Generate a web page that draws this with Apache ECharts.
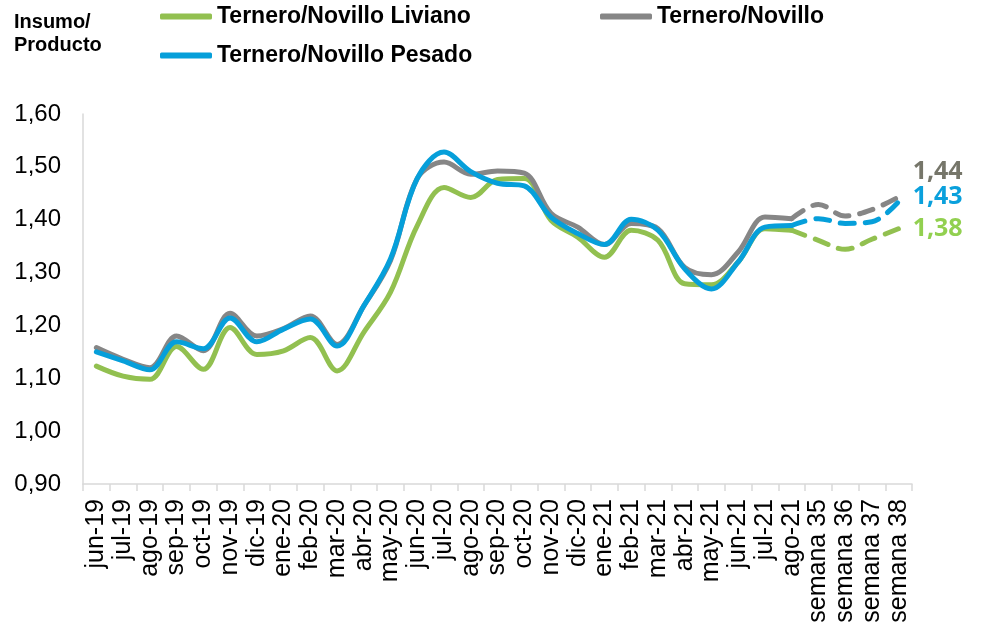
<!DOCTYPE html>
<html>
<head>
<meta charset="utf-8">
<script src="https://cdn.jsdelivr.net/npm/echarts@6/dist/echarts.min.js"></script>
<style>
  html, body { margin: 0; padding: 0; background: #fff; }
  #chart { width: 982px; height: 631px; }
</style>
</head>
<body>
<div id="chart"></div>
<script>
// categorias: meses + semanas proyectadas
const categories = ['jun-19', 'jul-19', 'ago-19', 'sep-19', 'oct-19', 'nov-19', 'dic-19',
  'ene-20', 'feb-20', 'mar-20', 'abr-20', 'may-20', 'jun-20', 'jul-20', 'ago-20', 'sep-20',
  'oct-20', 'nov-20', 'dic-20', 'ene-21', 'feb-21', 'mar-21', 'abr-21', 'may-21', 'jun-21',
  'jul-21', 'ago-21', 'semana 35', 'semana 36', 'semana 37', 'semana 38']

// valores mensuales (jun-19 .. ago-21)
const liviano = [1.123, 1.104, 1.098, 1.160, 1.117, 1.196, 1.145, 1.152, 1.177, 1.114, 1.187,
  1.263, 1.389, 1.461, 1.442, 1.476, 1.478, 1.399, 1.367, 1.329, 1.380, 1.361, 1.279, 1.277,
  1.320, 1.383, 1.380]
const novillo = [1.158, 1.136, 1.120, 1.180, 1.152, 1.223, 1.180, 1.194, 1.218, 1.164, 1.237,
  1.323, 1.478, 1.509, 1.486, 1.492, 1.488, 1.412, 1.386, 1.353, 1.393, 1.383, 1.310, 1.296,
  1.339, 1.405, 1.402]
const pesado = [1.150, 1.133, 1.116, 1.169, 1.156, 1.214, 1.169, 1.193, 1.212, 1.161, 1.237,
  1.326, 1.478, 1.528, 1.491, 1.469, 1.464, 1.405, 1.374, 1.353, 1.401, 1.380, 1.307, 1.269,
  1.320, 1.386, 1.389]

// semanas (ago-21, semana 35 .. semana 38), tramo punteado
const livianoSem = [1.380, 1.361, 1.344, 1.363, 1.383]
const novilloSem = [1.402, 1.429, 1.407, 1.419, 1.443]
const pesadoSem = [1.389, 1.402, 1.393, 1.396, 1.434]

const yTicks = { min: 0.9, max: 1.6, interval: 0.1 }

const GREEN = '#92C050'
const GRAY = '#868686'
const BLUE = '#069FDA'

function solid(arr) {
  return categories.map((c, i) => (i < arr.length ? arr[i] : null))
}
function dashed(arr) {
  const start = categories.length - arr.length
  return categories.map((c, i) => (i >= start ? arr[i - start] : null))
}
const fmt = v => v.toFixed(2).replace('.', ',')

function lineSeries(name, data, color) {
  return {
    name: name,
    type: 'line',
    data: data,
    smooth: 0.35,
    symbol: 'none',
    connectNulls: false,
    lineStyle: { width: 5, color: color, cap: 'round', join: 'round' },
    itemStyle: { color: color }
  }
}
function dashSeries(name, data, color, labelColor, offY) {
  const s = lineSeries(name, data, color)
  s.lineStyle.type = [14, 11]
  s.endLabel = {
    show: true,
    formatter: p => fmt(p.value),
    color: labelColor,
    fontFamily: 'Open Sans',
    fontWeight: 'bold',
    fontSize: 25,
    distance: 14,
    offset: [0, offY]
  }
  return s
}

const option = {
  animation: false,
  backgroundColor: '#fff',
  textStyle: { fontFamily: 'Liberation Sans, Arial, sans-serif' },
  title: {
    text: 'Insumo/\nProducto',
    left: 9,
    top: 6,
    textStyle: { fontSize: 20, fontWeight: 'bold', color: '#000', lineHeight: 23 }
  },
  legend: [
    { data: ['Ternero/Novillo Liviano'], left: 160, top: 5 },
    { data: ['Ternero/Novillo'], left: 600, top: 5 },
    { data: ['Ternero/Novillo Pesado'], left: 160, top: 44 }
  ].map(l => Object.assign(l, {
    icon: 'roundRect',
    itemWidth: 52,
    itemHeight: 6,
    padding: 0,
    selectedMode: false,
    textStyle: { fontSize: 23, fontWeight: 'bold', color: '#000' }
  })),
  grid: {
    left: 83,
    right: 70,
    top: 114,
    bottom: 147,
    containLabel: false,
    outerBoundsMode: 'none'
  },
  xAxis: {
    type: 'category',
    data: categories,
    boundaryGap: true,
    axisLine: { lineStyle: { color: '#d9d9d9', width: 1.5 } },
    axisTick: { show: true, length: 7, lineStyle: { color: '#d9d9d9', width: 1.5 } },
    axisLabel: { interval: 0, rotate: 90, fontSize: 25, color: '#000', margin: 15 },
    splitLine: { show: false }
  },
  yAxis: {
    type: 'value',
    min: yTicks.min,
    max: yTicks.max,
    interval: yTicks.interval,
    axisLine: { show: true, lineStyle: { color: '#d9d9d9', width: 1.5 } },
    axisTick: { show: false },
    axisLabel: { fontSize: 24, color: '#000', margin: 22, formatter: fmt },
    splitLine: { show: false }
  },
  series: [
    lineSeries('Ternero/Novillo Liviano', solid(liviano), GREEN),
    lineSeries('Ternero/Novillo', solid(novillo), GRAY),
    lineSeries('Ternero/Novillo Pesado', solid(pesado), BLUE),
    dashSeries('Liviano semanal', dashed(livianoSem), GREEN, '#92D050', 0),
    dashSeries('Novillo semanal', dashed(novilloSem), GRAY, '#76766A', -25),
    dashSeries('Pesado semanal', dashed(pesadoSem), BLUE, '#0AA0DC', -5)
  ]
}

const chart = echarts.init(document.getElementById('chart'))
chart.setOption(option)
</script>
</body>
</html>
